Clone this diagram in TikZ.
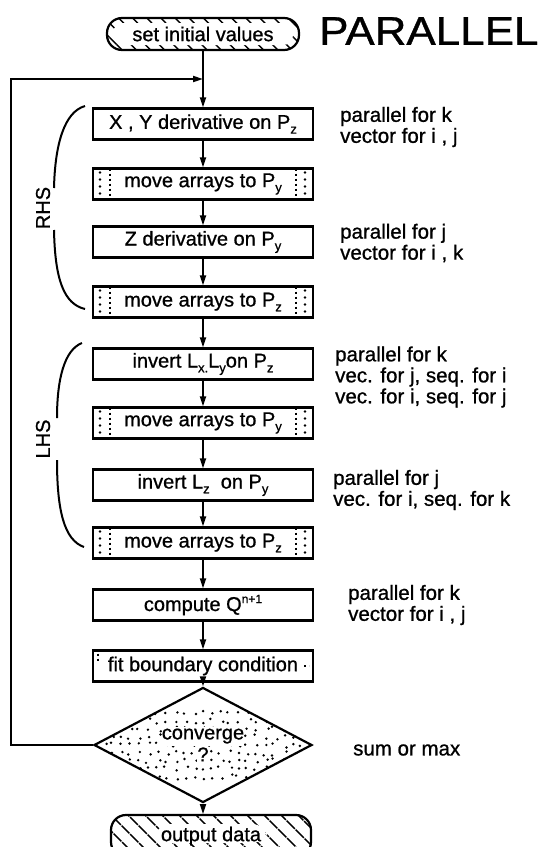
\documentclass[tikz,border=0pt]{standalone}
\usepackage{fontspec}
\setmainfont{Liberation Sans}[FakeBold=0.9]
\usetikzlibrary{arrows.meta,shapes.geometric,patterns.meta,calc}
\newcommand\lowx[1]{\raisebox{-0.45ex}{\fontsize{13}{13}\selectfont #1}}
\newcommand\highx[1]{\raisebox{0.75ex}{\fontsize{12}{12}\selectfont #1}}
\begin{document}
\begin{tikzpicture}[x=1pt,y=-1pt,
  box/.style={draw,line width=2.2pt,minimum width=220pt,minimum height=31pt,inner sep=0pt,
    font=\fontsize{20}{22}\selectfont},
  movebox/.style={box,path picture={
    \draw[line width=1.5pt,dash pattern=on 2.5pt off 2.5pt]
      ($(path picture bounding box.north west)+(17,0)$) -- ($(path picture bounding box.south west)+(17,0)$)
      ($(path picture bounding box.north east)+(-17,0)$) -- ($(path picture bounding box.south east)+(-17,0)$);
    \draw[line width=2.6pt,line cap=round,dash pattern=on 0pt off 7pt]
      ($(path picture bounding box.north west)+(7,4)$) -- ($(path picture bounding box.south west)+(7,0)$)
      ($(path picture bounding box.north east)+(-8,4)$) -- ($(path picture bounding box.south east)+(-8,0)$);
  }},
  fitbox/.style={box,path picture={
    \draw[line width=1.5pt,dash pattern=on 2pt off 3pt]
      ($(path picture bounding box.north west)+(5,3)$) -- ($(path picture bounding box.north west)+(5,12)$)
      ($(path picture bounding box.east)+(-9,0)$) -- ($(path picture bounding box.east)+(-4,0)$);
  }},
  term/.style={draw,line width=2.2pt,rounded corners=15pt,inner sep=0pt,
    font=\fontsize{20}{22}\selectfont},
  arr/.style={line width=1.8pt,-{Triangle[length=10pt,width=6pt]}},
  brace/.style={line width=2pt},
  note/.style={anchor=west,align=left,inner sep=0pt,font=\fontsize{20.5}{21}\selectfont},
  side/.style={rotate=90,inner sep=0pt,font=\fontsize{20}{22}\selectfont}
]
\useasboundingbox (0,0) rectangle (542,847);
\fill[white] (0,0) rectangle (542,847);

% start terminal
\node[term,minimum width=192pt,minimum height=32pt,
  pattern={Lines[angle=-45,distance=10pt,line width=1.4pt]},
  path picture={\fill[white,rounded corners=10pt]
     ($(path picture bounding box.north west)+(6,5)$) rectangle ($(path picture bounding box.south east)+(-6,-5)$);}]
  (s) at (203,34) {set initial values};
\node[anchor=west,inner sep=0pt,font=\fontsize{40}{40}\selectfont] (title) at (319,31) {\scalebox{1.1}[1]{PARALLEL}};

% boxes
\node[box] (b1) at (203,124) {X , Y derivative on P\lowx{z}};
\node[movebox] (b2) at (203,184) {move arrays to P\lowx{y}};
\node[box] (b3) at (203,242) {Z derivative on P\lowx{y}};
\node[movebox] (b4) at (203,302) {move arrays to P\lowx{z}};
\node[box] (b5) at (203,364) {invert L\lowx{x.}L\lowx{y}on P\lowx{z}};
\node[movebox] (b6) at (203,423) {move arrays to P\lowx{y}};
\node[box] (b7) at (203,485) {invert L\lowx{z}\ \ on P\lowx{y}};
\node[movebox] (b8) at (203,543) {move arrays to P\lowx{z}};
\node[box] (b9) at (203,605) {compute Q\highx{n+1}};
\node[fitbox] (b10) at (203,666) {fit boundary condition};

% decision
\node[diamond,draw,line width=2.2pt,minimum width=218pt,minimum height=66pt,inner sep=0pt,
  align=center,font=\fontsize{20}{22}\selectfont,
  path picture={
    \pgfmathsetseed{11}
    \foreach \gx in {-108,-99,...,108}{
      \foreach \gy in {-32,-24,...,32}{
        \pgfmathsetmacro\rx{\gx+rnd*6-3}
        \pgfmathsetmacro\ry{\gy+rnd*5-2.5}
        \fill ($(path picture bounding box.center)+(\rx,\ry)$) circle (1.35pt);
      }
    }
    \fill[white] ($(path picture bounding box.center)+(-41,-18)$) rectangle ($(path picture bounding box.center)+(41,1)$);
    \fill[white] ($(path picture bounding box.center)+(-6,4)$) rectangle ($(path picture bounding box.center)+(6,20)$);
  }] (d) at (203,745) {converge\\?};

% output terminal
\node[term,minimum width=200pt,minimum height=42pt,
  pattern={Lines[angle=-45,distance=13pt,line width=1.8pt]},
  path picture={\fill[white]
     ($(path picture bounding box.center)+(-56,-12)$) rectangle ($(path picture bounding box.center)+(56,7)$);}]
  (o) at (211,836) {output data};

% connectors
\coordinate (j) at (203,79);
\draw[arr] (s) -- (b1);
\draw[arr] (b1) -- (b2);
\draw[arr] (b2) -- (b3);
\draw[arr] (b3) -- (b4);
\draw[arr] (b4) -- (b5);
\draw[arr] (b5) -- (b6);
\draw[arr] (b6) -- (b7);
\draw[arr] (b7) -- (b8);
\draw[arr] (b8) -- (b9);
\draw[arr] (b9) -- (b10);
\draw[arr] (b10) -- (d);
\draw[arr] (d.south) -- (d.south |- o.north);
\draw[arr] (d.west) -- ++(-82,0) |- (j);

% braces and labels
\draw[brace] (85,106) .. controls (64,112) and (55,145) .. (54,188);
\draw[brace] (54,230) .. controls (55,280) and (64,304) .. (85,309);
\node[side] (rhs) at (43,208) {RHS};
\draw[brace] (82,343) .. controls (64,350) and (57,380) .. (57,418);
\draw[brace] (57,460) .. controls (57,510) and (64,540) .. (84,547);
\node[side] (lhs) at (43,439) {LHS};

% notes
\node[note] (n1) at (340,127) {parallel for k\\vector for i , j};
\node[note] (n2) at (340,243) {parallel for j\\vector for i , k};
\node[note] (n3) at (335,377) {parallel for k\\vec. for j, seq. for i\\vec. for i, seq. for j};
\node[note] (n4) at (333,490) {parallel for j\\vec. for i, seq. for k};
\node[note] (n5) at (348,605) {parallel for k\\vector for i , j};
\node[note] (n6) at (353,750) {sum or max};
\end{tikzpicture}
\end{document}
